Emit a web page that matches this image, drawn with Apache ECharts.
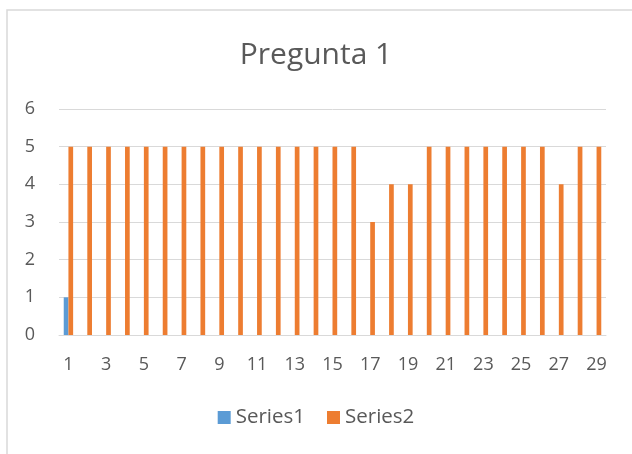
<!DOCTYPE html>
<html>
<head>
    <meta charset="utf-8">
    <title>Pregunta 1</title>
    <script src="https://cdn.jsdelivr.net/npm/echarts@6/dist/echarts.min.js"></script>
    <style>
        html, body { margin: 0; padding: 0; background: #fff; }
    </style>
</head>
<body>
<div id="main" style="width: 632px;height:454px;"></div>
<script type="text/javascript">
    var categories = [];
    for (var i = 1; i <= 29; i++) {
        categories.push(String(i));
    }
    // valores
    var series1 = [1, 0, 0, 0, 0, 0, 0, 0, 0, 0, 0, 0, 0, 0, 0, 0, 0, 0, 0, 0, 0, 0, 0, 0, 0, 0, 0, 0, 0];
    var series2 = [5, 5, 5, 5, 5, 5, 5, 5, 5, 5, 5, 5, 5, 5, 5, 5, 3, 4, 4, 5, 5, 5, 5, 5, 5, 5, 4, 5, 5];

    var myChart = echarts.init(document.getElementById('main'));
    var font = '"Open Sans", "Noto Sans", sans-serif';

    var option = {
        animation: false,
        textStyle: { fontFamily: font },
        title: {
            text: 'Pregunta 1',
            left: 'center',
            top: 35,
            textStyle: { color: '#595959', fontSize: 30, fontWeight: 'normal', fontFamily: font }
        },
        graphic: [{
            type: 'rect',
            shape: { x: 7, y: 10, width: 700, height: 500 },
            style: { fill: 'none', stroke: '#d9d9d9', lineWidth: 1.5 },
            silent: true
        }],
        legend: {
            bottom: 21,
            left: 'center',
            itemWidth: 13,
            itemHeight: 13,
            itemGap: 22,
            icon: 'rect',
            textStyle: { color: '#595959', fontSize: 20.5, fontFamily: font },
            data: ['Series1', 'Series2']
        },
        grid: {
            left: 59,
            right: 26,
            top: 109,
            bottom: 119
        },
        xAxis: {
            type: 'category',
            data: categories,
            axisLine: { lineStyle: { color: '#d9d9d9' } },
            axisTick: { show: false },
            axisLabel: { interval: 1, color: '#595959', fontSize: 18, margin: 21, fontFamily: font }
        },
        yAxis: {
            type: 'value',
            min: 0,
            max: 6,
            interval: 1,
            axisLine: { show: false },
            axisTick: { show: false },
            axisLabel: { color: '#595959', fontSize: 18, margin: 24, fontFamily: font },
            splitLine: { lineStyle: { color: '#d9d9d9' } }
        },
        series: [
            {
                name: 'Series1',
                type: 'bar',
                data: series1,
                barWidth: 4.7,
                barGap: '0%',
                itemStyle: { color: '#5b9bd5' }
            },
            {
                name: 'Series2',
                type: 'bar',
                data: series2,
                barWidth: 4.7,
                barGap: '0%',
                itemStyle: { color: '#ed7d31' }
            }
        ]
    };

    myChart.setOption(option);
</script>
</body>
</html>
